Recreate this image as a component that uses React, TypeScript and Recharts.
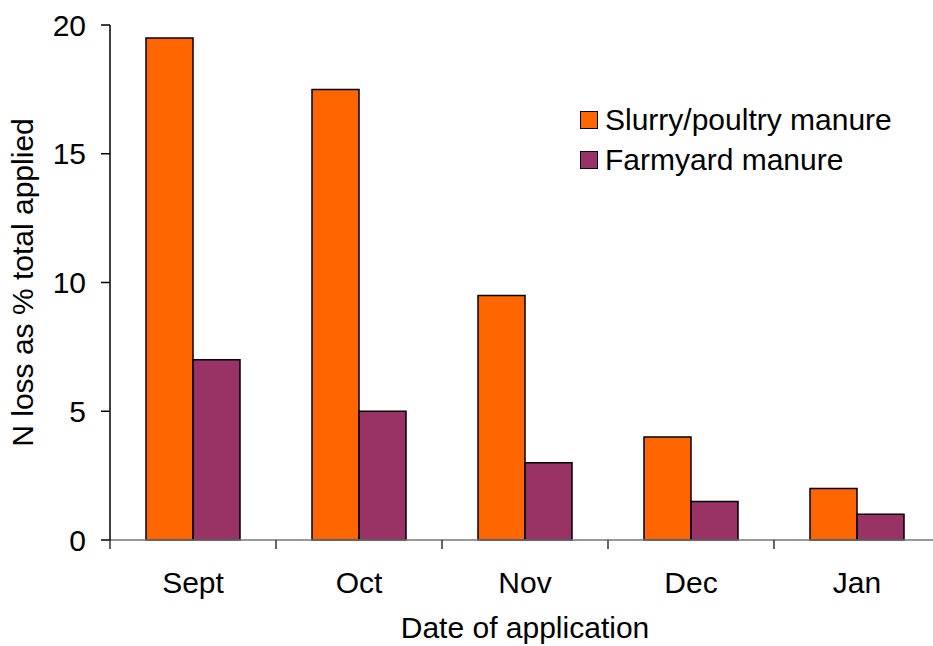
import React from 'react';
import { BarChart, Bar, XAxis, YAxis, Label } from 'recharts';

const months = ['Sept', 'Oct', 'Nov', 'Dec', 'Jan'];
const slurry = [19.5, 17.5, 9.5, 4, 2];
const farmyard = [7, 5, 3, 1.5, 1];
const yTicks = [0, 5, 10, 15, 20];

const series = [
  { key: 'slurry', name: 'Slurry/poultry manure', color: '#FF6600' },
  { key: 'farmyard', name: 'Farmyard manure', color: '#993366' },
];

const data = months.map((m, i) => ({ month: m, slurry: slurry[i], farmyard: farmyard[i] }));

const FONT = '"Liberation Sans", Arial, sans-serif';
const FS = 30;
const CHART_W = 960;
const MARGIN = { top: 25, right: 20, bottom: 0, left: 0 };
const Y_W = 110;
const PLOT_W = CHART_W - MARGIN.left - MARGIN.right - Y_W;
const BAND = PLOT_W / months.length;
const X_TICK_MARGIN = 32;

const LegendBox = () => (
  <div style={{ position: 'absolute', left: 580, top: 100, fontFamily: FONT, fontSize: FS, color: '#000' }}>
    {series.map((s) => (
      <div key={s.key} style={{ display: 'flex', alignItems: 'center', height: 40, lineHeight: '40px', whiteSpace: 'nowrap' }}>
        <div style={{ width: 16, height: 16, background: s.color, border: '1.5px solid #000', marginRight: 7 }} />
        <span>{s.name}</span>
      </div>
    ))}
  </div>
);

const YLabel = (props: any) => {
  const vb = props.viewBox || {};
  const cx = vb.x + 33;
  const cy = vb.y + vb.height / 2;
  return (
    <text x={cx} y={cy} textAnchor="middle" fontFamily={FONT} fontSize={FS} fill="#000" transform={`rotate(-90, ${cx}, ${cy})`}>
      N loss as % total applied
    </text>
  );
};

const XTick = (props: any) => {
  const { x, y, payload, index } = props;
  const ay = y - X_TICK_MARGIN;
  const left = x - BAND / 2;
  const right = x + BAND / 2;
  return (
    <g>
      <line x1={left} y1={ay} x2={left} y2={ay + 9} stroke="#333" strokeWidth={1.5} />
      {index === months.length - 1 && <line x1={right} y1={ay} x2={right} y2={ay + 9} stroke="#333" strokeWidth={1.5} />}
      <text x={x} y={y} dy="0.71em" textAnchor="middle" fontFamily={FONT} fontSize={FS} fill="#000">
        {payload.value}
      </text>
    </g>
  );
};

export default function App() {
  return (
    <div style={{ position: 'absolute', left: 0, top: 0, width: 933, height: 646, overflow: 'hidden', background: '#fff' }}>
      <BarChart
        width={CHART_W}
        height={646}
        data={data}
        margin={MARGIN}
        barCategoryGap={36}
        barGap={0}
        style={{ fontFamily: FONT }}
      >
        <XAxis
          dataKey="month"
          height={106}
          axisLine={{ stroke: '#777', strokeWidth: 1.5 }}
          tickLine={false}
          tickSize={0}
          tickMargin={X_TICK_MARGIN}
          interval={0}
          tick={<XTick />}
        >
          <Label value="Date of application" position="insideBottom" offset={8} fill="#000" fontSize={FS} fontFamily={FONT} />
        </XAxis>
        <YAxis
          width={Y_W}
          domain={[0, 20]}
          ticks={yTicks}
          tickSize={9}
          tickMargin={15}
          axisLine={{ stroke: '#000', strokeWidth: 1.5 }}
          tickLine={{ stroke: '#000', strokeWidth: 1.5 }}
          tick={{ fill: '#000', fontSize: FS, fontFamily: FONT }}
        >
          <Label content={<YLabel />} />
        </YAxis>
        {series.map((s) => (
          <Bar
            key={s.key}
            dataKey={s.key}
            name={s.name}
            fill={s.color}
            stroke="#000"
            strokeWidth={1.5}
            isAnimationActive={false}
          />
        ))}
      </BarChart>
      <LegendBox />
    </div>
  );
}
